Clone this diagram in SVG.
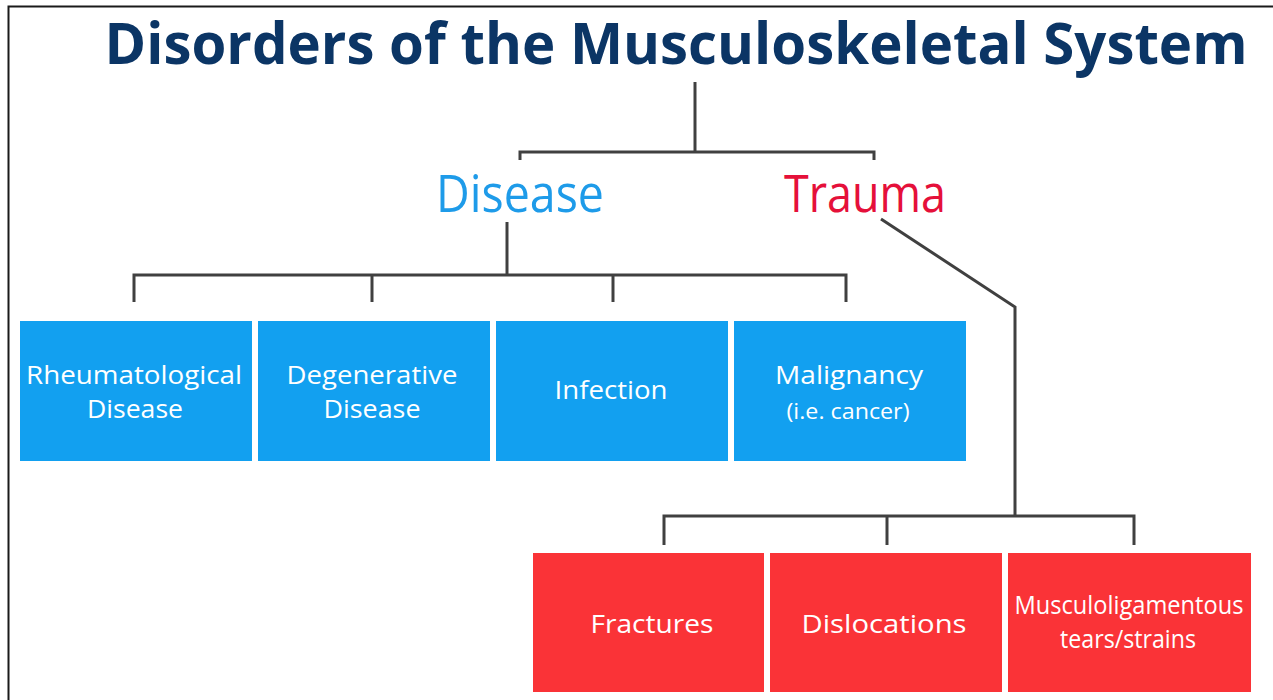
<svg xmlns="http://www.w3.org/2000/svg" width="1273" height="700" viewBox="0 0 1273 700">
<style>
.conn{fill:none;stroke:#404040;stroke-width:3;stroke-linejoin:miter;stroke-linecap:butt}
.blue{fill:#12a0f0}
.red{fill:#fa3337}
.lbl{font-family:"Open Sans","Noto Sans",sans-serif;font-size:25px;fill:#ffffff;text-anchor:middle}
.sm{font-size:21px}
.head{font-family:"Open Sans","Noto Sans",sans-serif;font-size:51px;text-anchor:middle}
</style>
<rect x="0" y="0" width="1273" height="700" fill="#ffffff"/>
<path d="M8.5 700 V6.5 H1273" fill="none" stroke="#1a1a1a" stroke-width="2"/>
<g id="title">
<text x="676" y="64" font-family="'Open Sans','Noto Sans',sans-serif" font-weight="bold" font-size="57" fill="#0b3565" text-anchor="middle" textLength="1143" lengthAdjust="spacingAndGlyphs">Disorders of the Musculoskeletal System</text>
</g>
<g id="connectors">
<path class="conn" d="M695 82 V152"/>
<path class="conn" d="M520 160 V152 H874 V160"/>
<path class="conn" d="M507 222 V275"/>
<path class="conn" d="M134 302 V275 H846 V302"/>
<path class="conn" d="M372 275 V302"/>
<path class="conn" d="M613 275 V302"/>
<path class="conn" d="M881 219 L1015 307 V516"/>
<path class="conn" d="M664 545 V516 H1134 V545"/>
<path class="conn" d="M887 516 V545"/>
</g>
<g id="disease">
<text class="head" x="520" y="212" fill="#1e9be9" textLength="168" lengthAdjust="spacingAndGlyphs">Disease</text>
</g>
<g id="trauma">
<text class="head" x="865" y="212" fill="#e5103a" textLength="162" lengthAdjust="spacingAndGlyphs">Trauma</text>
</g>
<g id="rheumatological">
<rect class="blue" x="20" y="321" width="232" height="140"/>
<text class="lbl" x="134" y="384" textLength="216" lengthAdjust="spacingAndGlyphs">Rheumatological</text>
<text class="lbl" x="135" y="418" textLength="96" lengthAdjust="spacingAndGlyphs">Disease</text>
</g>
<g id="degenerative">
<rect class="blue" x="258" y="321" width="232" height="140"/>
<text class="lbl" x="372" y="384" textLength="171" lengthAdjust="spacingAndGlyphs">Degenerative</text>
<text class="lbl" x="372" y="418" textLength="97" lengthAdjust="spacingAndGlyphs">Disease</text>
</g>
<g id="infection">
<rect class="blue" x="496" y="321" width="232" height="140"/>
<text class="lbl" x="611" y="399" textLength="113" lengthAdjust="spacingAndGlyphs">Infection</text>
</g>
<g id="malignancy">
<rect class="blue" x="734" y="321" width="232" height="140"/>
<text class="lbl" x="849" y="384" textLength="148" lengthAdjust="spacingAndGlyphs">Malignancy</text>
<text class="lbl sm" x="848" y="419" textLength="123" lengthAdjust="spacingAndGlyphs">(i.e. cancer)</text>
</g>
<g id="fractures">
<rect class="red" x="533" y="553" width="231" height="139"/>
<text class="lbl" x="652" y="633" textLength="123" lengthAdjust="spacingAndGlyphs">Fractures</text>
</g>
<g id="dislocations">
<rect class="red" x="770" y="553" width="232" height="139"/>
<text class="lbl" x="884" y="633" textLength="165" lengthAdjust="spacingAndGlyphs">Dislocations</text>
</g>
<g id="musculoligamentous">
<rect class="red" x="1008" y="553" width="243" height="139"/>
<text class="lbl" x="1129" y="614" textLength="229" lengthAdjust="spacingAndGlyphs">Musculoligamentous</text>
<text class="lbl" x="1128" y="648" textLength="136" lengthAdjust="spacingAndGlyphs">tears/strains</text>
</g>
</svg>
